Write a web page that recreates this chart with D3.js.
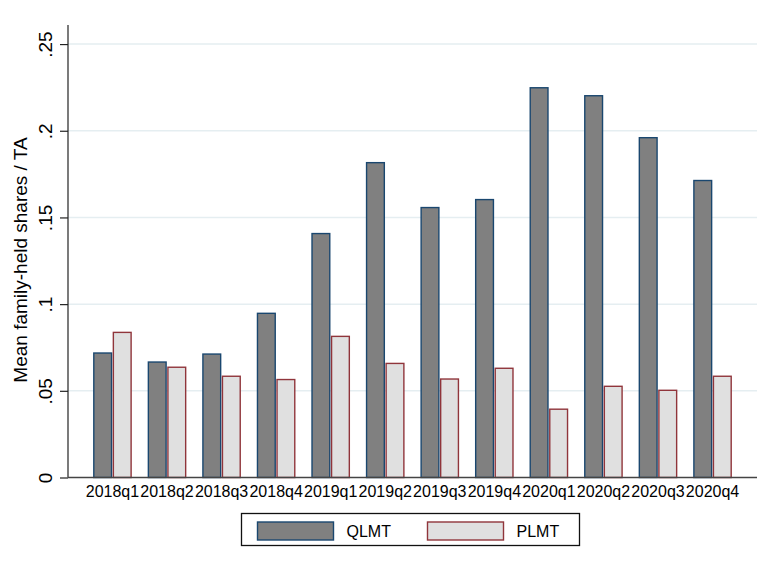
<!DOCTYPE html>
<html>
<head>
<meta charset="utf-8">
<script src="https://cdn.jsdelivr.net/npm/d3@7"></script>
<style>
  html, body { margin: 0; padding: 0; background: #fff; }
  svg { display: block; font-family: Arial, "Liberation Sans", Helvetica, sans-serif; }
</style>
</head>
<body>
<svg id="chart" width="766" height="576"></svg>
<script>
// Quarterly mean of family-held shares over total assets
const quarters = ["2018q1","2018q2","2018q3","2018q4","2019q1","2019q2",
                  "2019q3","2019q4","2020q1","2020q2","2020q3","2020q4"];
const seriesNames = ["QLMT", "PLMT"];
const qlmt = [0.0718, 0.0666, 0.0712, 0.0947, 0.1407, 0.1816,
              0.1557, 0.1603, 0.2248, 0.2202, 0.1960, 0.1713];
const plmt = [0.0837, 0.0636, 0.0584, 0.0565, 0.0814, 0.0658,
              0.0568, 0.0630, 0.0394, 0.0526, 0.0503, 0.0584];
const yTicks = [0, 0.05, 0.1, 0.15, 0.2, 0.25];
const yTickLabels = ["0", ".05", ".1", ".15", ".2", ".25"];
const yTitle = "Mean family-held shares / TA";

const fills = { QLMT: "#808080", PLMT: "#e0e0e0" };
const strokes = { QLMT: "#1a476f", PLMT: "#90353b" };

const rows = quarters.map((q, i) => ({ q, QLMT: qlmt[i], PLMT: plmt[i] }));

const svg = d3.select("#chart");
const plot = { left: 68, right: 757, top: 25, bottom: 477.5 };

const x = d3.scaleBand()
  .domain(quarters)
  .range([plot.left, plot.right])
  .paddingInner(0.276)
  .paddingOuter(0.453);

const xs = d3.scaleBand()
  .domain(seriesNames)
  .range([0, x.bandwidth()])
  .padding(0.02);

const y = d3.scaleLinear()
  .domain([0, 0.261])
  .range([plot.bottom, plot.top]);

// horizontal grid
svg.append("g")
  .selectAll("line")
  .data(yTicks.filter(d => d > 0))
  .join("line")
  .attr("x1", plot.left)
  .attr("x2", plot.right)
  .attr("y1", d => y(d))
  .attr("y2", d => y(d))
  .attr("stroke", "#e5eef1")
  .attr("stroke-width", 1.5);

// bars
const groups = svg.append("g")
  .selectAll("g")
  .data(rows)
  .join("g")
  .attr("transform", d => `translate(${x(d.q)},0)`);

groups.selectAll("rect")
  .data(d => seriesNames.map(s => ({ s, v: d[s] })))
  .join("rect")
  .attr("x", d => xs(d.s) + 0.7)
  .attr("width", xs.bandwidth() - 1.4)
  .attr("y", d => y(d.v))
  .attr("height", d => y(0) - y(d.v))
  .attr("fill", d => fills[d.s])
  .attr("stroke", d => strokes[d.s])
  .attr("stroke-width", 1.4);

// y axis
const yAxis = d3.axisLeft(y)
  .tickValues(yTicks)
  .tickFormat((d, i) => yTickLabels[i])
  .tickSize(8)
  .tickPadding(8);

const ya = svg.append("g")
  .attr("transform", `translate(${plot.left},0)`)
  .call(yAxis);
ya.select(".domain")
  .attr("d", `M0,${plot.top}V${plot.bottom}`)
  .attr("stroke", "#222")
  .attr("stroke-width", 1.2);
ya.selectAll(".tick line").attr("stroke", "#222").attr("stroke-width", 1.2);
ya.selectAll(".tick text")
  .attr("font-size", 19)
  .attr("fill", "#000")
  .attr("x", null).attr("dy", null)
  .attr("text-anchor", "middle")
  .attr("transform", "translate(-16,0) rotate(-90)");

// x axis
const xAxis = d3.axisBottom(x).tickSize(0).tickPadding(8);
const xa = svg.append("g")
  .attr("transform", `translate(0,${plot.bottom})`)
  .call(xAxis);
xa.select(".domain")
  .attr("d", `M${plot.left},0H${plot.right}`)
  .attr("stroke", "#444")
  .attr("stroke-width", 1.4);
xa.selectAll(".tick text")
  .attr("font-size", 16)
  .attr("fill", "#000")
  .attr("dy", null)
  .attr("y", 19.5);

// y title
svg.append("text")
  .attr("transform", "translate(27,260) rotate(-90)")
  .attr("text-anchor", "middle")
  .attr("font-size", 19)
  .attr("fill", "#000")
  .text(yTitle);

// legend
const legend = svg.append("g");
legend.append("rect")
  .attr("x", 241.5).attr("y", 513.5)
  .attr("width", 338).attr("height", 32)
  .attr("fill", "#fff")
  .attr("stroke", "#111")
  .attr("stroke-width", 1.3);

const legendX = [257.5, 427.5];
seriesNames.forEach((s, i) => {
  legend.append("rect")
    .attr("x", legendX[i]).attr("y", 522)
    .attr("width", 76).attr("height", 18)
    .attr("fill", fills[s])
    .attr("stroke", strokes[s])
    .attr("stroke-width", 1.4);
  legend.append("text")
    .attr("x", legendX[i] + 89)
    .attr("y", 536.5)
    .attr("font-size", 16)
    .attr("fill", "#000")
    .text(s);
});
</script>
</body>
</html>
